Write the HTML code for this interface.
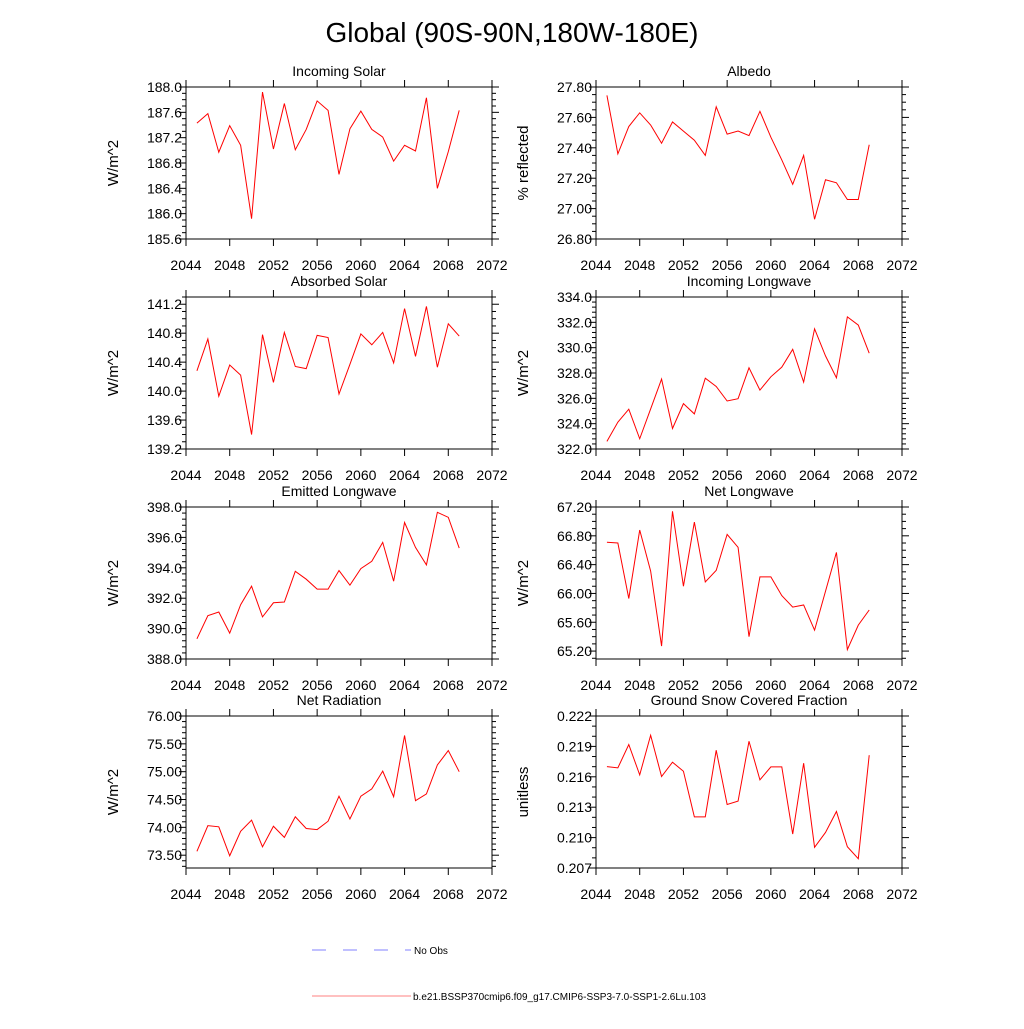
<!DOCTYPE html>
<html><head><meta charset="utf-8"><style>
body{margin:0;background:#fff;}
svg text{font-family:"Liberation Sans",sans-serif;fill:#000;}
</style></head><body>
<svg id="chart" width="1024" height="1024" viewBox="0 0 1024 1024" xmlns="http://www.w3.org/2000/svg">
<rect width="1024" height="1024" fill="#fff"/>
<text x="512" y="42" font-size="28" text-anchor="middle">Global (90S-90N,180W-180E)</text>
<g id="panels"></g>
<g>
<line x1="312" y1="950" x2="411" y2="950" stroke="#8080ff" stroke-width="1" stroke-dasharray="14,17"/>
<text x="414" y="954" font-size="10">No Obs</text>
<line x1="312" y1="996" x2="411" y2="996" stroke="#ff8080" stroke-width="1"/>
<text x="413" y="1000" font-size="10">b.e21.BSSP370cmip6.f09_g17.CMIP6-SSP3-7.0-SSP1-2.6Lu.103</text>
</g>
</svg>
<script>
const years = [2045,2046,2047,2048,2049,2050,2051,2052,2053,2054,2055,2056,2057,2058,2059,2060,2061,2062,2063,2064,2065,2066,2067,2068,2069];
const xTicks = [2044,2048,2052,2056,2060,2064,2068,2072];
const incomingSolar = [187.43,187.58,186.97,187.39,187.08,185.92,187.92,187.02,187.74,187.01,187.33,187.78,187.63,186.62,187.34,187.62,187.33,187.21,186.83,187.08,186.99,187.83,186.40,186.98,187.63];
const albedo = [27.745,27.36,27.54,27.63,27.55,27.43,27.57,27.51,27.45,27.35,27.67,27.49,27.51,27.48,27.64,27.47,27.32,27.16,27.35,26.93,27.19,27.17,27.06,27.06,27.42];
const absorbedSolar = [140.28,140.72,139.93,140.36,140.22,139.40,140.78,140.12,140.81,140.34,140.31,140.77,140.74,139.96,140.37,140.79,140.64,140.81,140.39,141.14,140.48,141.17,140.33,140.93,140.76];
const incomingLW = [322.60,324.12,325.14,322.81,325.16,327.52,323.62,325.58,324.77,327.59,326.94,325.79,325.97,328.41,326.65,327.70,328.46,329.87,327.28,331.49,329.35,327.62,332.43,331.78,329.56];
const emittedLW = [389.33,390.85,391.09,389.70,391.57,392.79,390.77,391.70,391.75,393.77,393.25,392.60,392.60,393.82,392.86,393.95,394.43,395.67,393.12,396.98,395.34,394.19,397.65,397.32,395.30];
const netLW = [66.71,66.70,65.93,66.88,66.31,65.27,67.14,66.10,66.99,66.16,66.32,66.82,66.64,65.40,66.23,66.23,65.97,65.81,65.84,65.49,66.03,66.57,65.22,65.56,65.77];
const netRad = [73.57,74.03,74.01,73.49,73.93,74.13,73.65,74.02,73.82,74.19,73.98,73.96,74.11,74.56,74.15,74.56,74.69,75.01,74.55,75.65,74.48,74.60,75.12,75.38,75.00];
const snowFrac = [0.21701,0.21688,0.21918,0.21619,0.22010,0.21603,0.21744,0.21655,0.21205,0.21205,0.21862,0.21327,0.21360,0.21951,0.21570,0.21698,0.21698,0.21035,0.21734,0.20904,0.21051,0.21258,0.20910,0.20792,0.21813];
const ticksSolar = [185.6,186.0,186.4,186.8,187.2,187.6,188.0];
const ticksAlbedo = [26.8,27.0,27.2,27.4,27.6,27.8];
const ticksAbs = [139.2,139.6,140.0,140.4,140.8,141.2];
const ticksILW = [322,324,326,328,330,332,334];
const ticksELW = [388,390,392,394,396,398];
const ticksNLW = [65.2,65.6,66.0,66.4,66.8,67.2];
const ticksNR = [73.5,74.0,74.5,75.0,75.5,76.0];
const ticksSnow = [0.207,0.210,0.213,0.216,0.219,0.222];

const NS='http://www.w3.org/2000/svg';
const root=document.getElementById('panels');
function mk(tag,attrs,parent){const e=document.createElementNS(NS,tag);for(const k in attrs)e.setAttribute(k,attrs[k]);parent.appendChild(e);return e;}

const panels=[
 {title:'Incoming Solar',yt:'W/m^2',data:incomingSolar,ticks:ticksSolar,ymin:185.6,ymax:188.0,dec:1,minor:4,col:0,row:0,name:'incoming-solar'},
 {title:'Albedo',yt:'% reflected',data:albedo,ticks:ticksAlbedo,ymin:26.8,ymax:27.8,dec:2,minor:4,col:1,row:0,name:'albedo'},
 {title:'Absorbed Solar',yt:'W/m^2',data:absorbedSolar,ticks:ticksAbs,ymin:139.2,ymax:141.3,dec:1,minor:4,col:0,row:1,name:'absorbed-solar'},
 {title:'Incoming Longwave',yt:'W/m^2',data:incomingLW,ticks:ticksILW,ymin:322,ymax:334,dec:1,minor:5,col:1,row:1,name:'incoming-longwave'},
 {title:'Emitted Longwave',yt:'W/m^2',data:emittedLW,ticks:ticksELW,ymin:388,ymax:398,dec:1,minor:5,col:0,row:2,name:'emitted-longwave'},
 {title:'Net Longwave',yt:'W/m^2',data:netLW,ticks:ticksNLW,ymin:65.09,ymax:67.2,dec:2,minor:4,col:1,row:2,name:'net-longwave'},
 {title:'Net Radiation',yt:'W/m^2',data:netRad,ticks:ticksNR,ymin:73.27,ymax:76.0,dec:2,minor:5,col:0,row:3,name:'net-radiation'},
 {title:'Ground Snow Covered Fraction',yt:'unitless',data:snowFrac,ticks:ticksSnow,ymin:0.207,ymax:0.222,dec:3,minor:3,col:1,row:3,name:'ground-snow-covered-fraction'}
];
const lefts=[186,596], tops=[87,297,507,716], W=306, H=152;

panels.forEach(p=>{
 const x0=lefts[p.col], y0=tops[p.row];
 const g=mk('g',{},root);
 
 
 const xs=v=>x0+(v-2044)/(2072-2044)*W;
 const ys=v=>y0+H-(v-p.ymin)/(p.ymax-p.ymin)*H;
 const fr=mk('rect',{x:x0,y:y0,width:W,height:H,fill:'none',stroke:'#000','stroke-width':1},g);
 
 
 const t=mk('text',{x:x0+W/2,y:y0-11,'font-size':14,'text-anchor':'middle'},g);
 t.textContent=p.title;
 
 
 const yl=mk('text',{x:0,y:0,'font-size':15,'text-anchor':'middle',transform:`translate(${x0-68},${y0+H/2}) rotate(-90)`},g);
 yl.textContent=p.yt;
 
 
 xTicks.forEach(v=>{
  const x=xs(v);
  mk('line',{x1:x,y1:y0,x2:x,y2:y0-7,stroke:'#000'},g);
  mk('line',{x1:x,y1:y0+H,x2:x,y2:y0+H+7,stroke:'#000'},g);
  const tx=mk('text',{x:x,y:y0+H+31,'font-size':14,'text-anchor':'middle'},g);
  tx.textContent=v;
  
  
 });
 const step=p.ticks[1]-p.ticks[0];
 for(let i=-1;i<p.ticks.length;i++){
  for(let k=1;k<p.minor;k++){
   const v=p.ticks[0]+(i+k/p.minor)*step;
   if(v<p.ymin-1e-9||v>p.ymax+1e-9)continue;
   const y=ys(v);
   mk('line',{x1:x0,y1:y,x2:x0-4,y2:y,stroke:'#000'},g);
   mk('line',{x1:x0+W,y1:y,x2:x0+W+4,y2:y,stroke:'#000'},g);
  }
 }
 p.ticks.forEach(v=>{
  const y=ys(v);
  mk('line',{x1:x0,y1:y,x2:x0-7,y2:y,stroke:'#000'},g);
  mk('line',{x1:x0+W,y1:y,x2:x0+W+7,y2:y,stroke:'#000'},g);
  const ty=mk('text',{x:x0-4,y:y+5,'font-size':14,'text-anchor':'end'},g);
  ty.textContent=v.toFixed(p.dec);
  
  
 });
 const pts=p.data.map((v,i)=>xs(years[i]).toFixed(2)+','+ys(v).toFixed(2)).join(' ');
 const pl=mk('polyline',{points:pts,fill:'none',stroke:'#ff0000','stroke-width':1},g);
 
 
});
</script>
</body></html>
